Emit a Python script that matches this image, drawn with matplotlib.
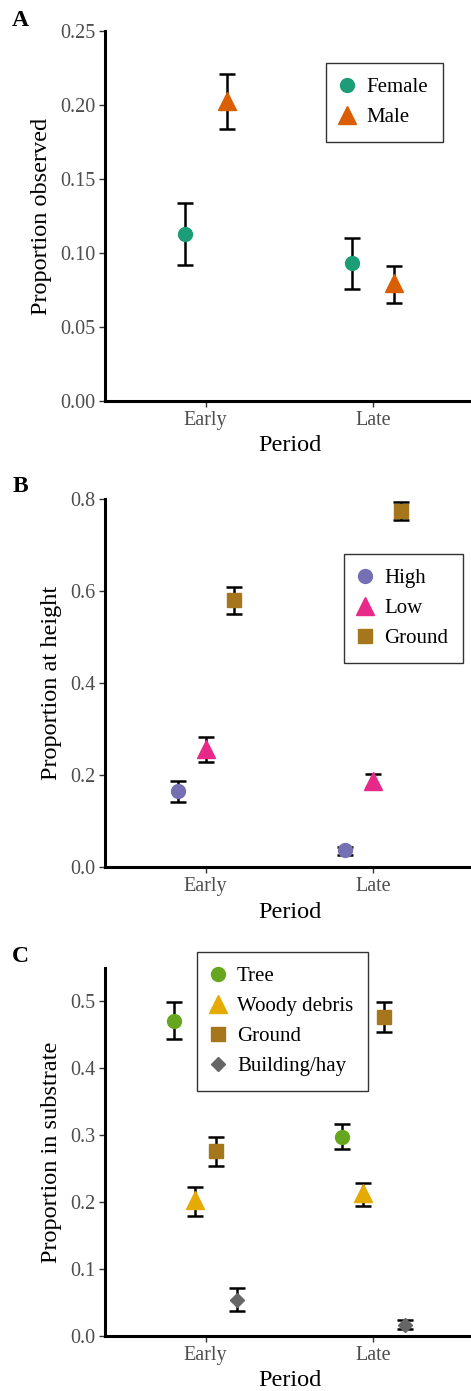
import numpy as np
import matplotlib
matplotlib.use("Agg")
import matplotlib.pyplot as plt

plt.rcParams['font.family'] = ['Liberation Serif', 'DejaVu Serif']

periods = ["Early", "Late"]

# Panel A: sex
sex_groups = ["Female", "Male"]
sex_mean = [[0.113, 0.093], [0.203, 0.080]]
sex_lo = [[0.092, 0.076], [0.184, 0.066]]
sex_hi = [[0.134, 0.110], [0.221, 0.091]]

# Panel B: height
height_groups = ["High", "Low", "Ground"]
height_mean = [[0.166, 0.038], [0.258, 0.188], [0.580, 0.774]]
height_lo = [[0.142, 0.027], [0.228, 0.172], [0.550, 0.755]]
height_hi = [[0.188, 0.045], [0.282, 0.203], [0.609, 0.793]]

# Panel C: substrate
sub_groups = ["Tree", "Woody debris", "Ground", "Building/hay"]
sub_mean = [[0.470, 0.297], [0.202, 0.213], [0.275, 0.475], [0.054, 0.017]]
sub_lo = [[0.443, 0.278], [0.179, 0.194], [0.253, 0.453], [0.038, 0.011]]
sub_hi = [[0.498, 0.316], [0.222, 0.228], [0.297, 0.498], [0.071, 0.024]]

W, H = 471, 1391
fig = plt.figure(figsize=(W / 100, H / 100), dpi=100)

def px_axes(left, top, bottom, width=369):
    return fig.add_axes([left / W, (H - bottom) / H, width / W, (bottom - top) / H])

def panel(ax, groups, means, los, his, colors, markers, msizes, ylim, yticks,
          yfmt, ylabel, leg_anchor):
    n = len(groups)
    dw = 0.5
    x = np.arange(1, len(periods) + 1)
    handles = []
    for i in range(n):
        off = -dw / 2 + dw / (2 * n) + i * dw / n
        xs = x + off
        m = np.array(means[i])
        err = [m - np.array(los[i]), np.array(his[i]) - m]
        ax.errorbar(xs, m, yerr=err, fmt='none', ecolor='black', elinewidth=1.8,
                    capsize=5.8, capthick=1.8, zorder=2)
        h, = ax.plot(xs, m, linestyle='none', marker=markers[i], ms=msizes[i],
                     color=colors[i], mec=colors[i], zorder=3, label=groups[i])
        handles.append(h)
    ax.set_xlim(0.4, 2.6)
    ax.set_ylim(*ylim)
    ax.set_xticks(x)
    ax.set_xticklabels(periods)
    ax.set_yticks(yticks)
    ax.set_yticklabels([yfmt.format(v) for v in yticks])
    for s in ['top', 'right']:
        ax.spines[s].set_visible(False)
    for s in ['left', 'bottom']:
        ax.spines[s].set_linewidth(2.2)
        ax.spines[s].set_color('black')
    ax.tick_params(axis='both', colors='#333333', labelcolor='#4D4D4D',
                   labelsize=14.5, length=4, width=1.0, pad=3)
    ax.set_xlabel("Period", fontsize=17.5, labelpad=4)
    ax.set_ylabel(ylabel, fontsize=17.5, labelpad=6)
    leg = ax.legend(handles=handles, loc='upper left', bbox_to_anchor=leg_anchor,
                    borderaxespad=0, frameon=True, fancybox=False, fontsize=15,
                    handletextpad=0.62, handlelength=0.6, borderpad=0.7,
                    labelspacing=0.5)
    leg.get_frame().set_edgecolor('black')
    leg.get_frame().set_linewidth(1.0)
    leg.set_zorder(5)

axA = px_axes(105, 31, 401)
panel(axA, sex_groups, sex_mean, sex_lo, sex_hi, ['#1B9E77', '#D95F02'],
      ['o', '^'], [10, 12.5], (0, 0.25), [0, 0.05, 0.10, 0.15, 0.20, 0.25],
      "{:.2f}", "Proportion observed", (0.60, 0.913))

axB = px_axes(105, 499, 867.3)
panel(axB, height_groups, height_mean, height_lo, height_hi,
      ['#7570B3', '#E7298A', '#A6761D'], ['o', '^', 's'], [10, 12.5, 9.5],
      (0, 0.8), [0, 0.2, 0.4, 0.6, 0.8], "{:.1f}", "Proportion at height",
      (0.648, 0.851))

axC = px_axes(105, 968.3, 1336)
panel(axC, sub_groups, sub_mean, sub_lo, sub_hi,
      ['#66A61E', '#E6AB02', '#A6761D', '#666666'], ['o', '^', 's', 'D'],
      [10, 12.5, 9.5, 7], (0, 0.548), [0, 0.1, 0.2, 0.3, 0.4, 0.5], "{:.1f}",
      "Proportion in substrate", (0.249, 1.044))

for lab, y in [("A", 21), ("B", 487), ("C", 956)]:
    fig.text(20 / W, 1 - y / H, lab, fontsize=17, fontweight='bold',
             ha='center', va='center')

fig.savefig("out.png", dpi=100)
